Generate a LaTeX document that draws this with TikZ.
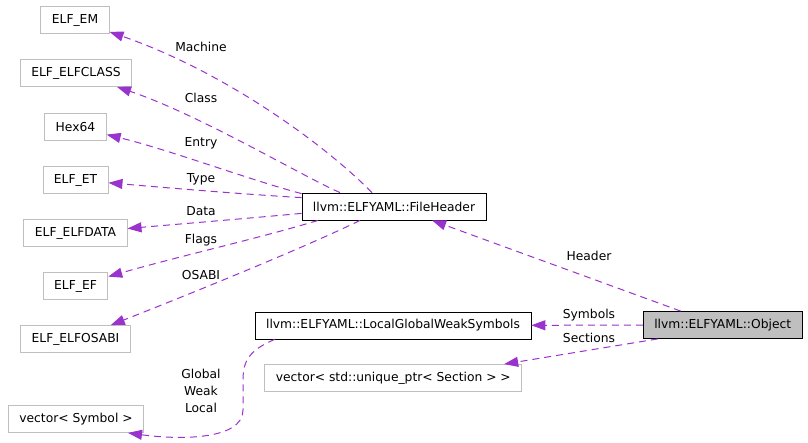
\documentclass[tikz,border=0pt]{standalone}
\usepackage{fontspec}
\setmainfont{DejaVu Sans}
\usetikzlibrary{arrows.meta,positioning}
\definecolor{edgepurple}{HTML}{9A32CD}
\definecolor{boxgray}{HTML}{BFBFBF}

\begin{document}
\begin{tikzpicture}[x=1pt, y=-1pt,
  cls/.style={rectangle, draw=black, fill=white, line width=0.8pt, minimum height=27pt, inner xsep=11pt, font=\fontsize{12.3}{17}\selectfont},
  ext/.style={cls, draw=boxgray},
  cur/.style={cls, fill=boxgray},
  link/.style={draw=edgepurple, line width=1pt, dash pattern=on 7pt off 5pt, -{Triangle[length=14pt,width=10pt,fill=edgepurple]}},
  lbl/.style={font=\fontsize{12.3}{17}\selectfont, align=center, inner sep=0pt}]
\useasboundingbox (0,0) rectangle (808,442);
% member types
\node[ext] (em) at (75,20) {ELF\_EM};
\node[ext] (elfclass) at (76,73) {ELF\_ELFCLASS};
\node[ext] (hex) at (75.5,127) {Hex64};
\node[ext] (et) at (75.5,180) {ELF\_ET};
\node[ext] (elfdata) at (75.5,233) {ELF\_ELFDATA};
\node[ext] (ef) at (75.5,286) {ELF\_EF};
\node[ext] (osabi) at (75.5,339) {ELF\_ELFOSABI};
\node[ext] (vecsym) at (76,419) {vector< Symbol >};
\node[cls] (fh) at (394,206.5) {llvm::ELFYAML::FileHeader};
\node[cls] (lgws) at (393,325.5) {llvm::ELFYAML::LocalGlobalWeakSymbols};
\node[ext] (vecsec) at (393.3,378) {vector< std::unique\_ptr< Section > >};
\node[cur] (obj) at (722.7,325) {llvm::ELFYAML::Object};
% FileHeader members
\draw[link] ([xshift=-22pt]fh.north) .. controls (320,140) and (220,70) .. (em);
\draw[link] ([xshift=-54pt]fh.north) .. controls (300,175) and (200,115) .. (elfclass);
\draw[link] ([yshift=-1pt]fh.north west) .. controls (250,180) and (170,150) .. (hex);
\draw[link] ([yshift=-5pt]fh.north west) .. controls (240,194) and (170,188) .. (et);
\draw[link] ([yshift=7pt]fh.south west) .. controls (240,219) and (180,224) .. (elfdata);
\draw[link] ([xshift=-76pt]fh.south) .. controls (260,238) and (180,256) .. (ef);
\draw[link] ([xshift=-34pt]fh.south) .. controls (310,245) and (200,290) .. (osabi);
% Object members
\draw[link] ([xshift=-42pt]obj.north) -- (fh);
\draw[link] (obj) -- (lgws);
\draw[link] ([xshift=-65pt]obj.south) -- ([xshift=-18pt]vecsec.north east);
\draw[link] ([xshift=20pt]lgws.south west) .. controls (250,350) and (243,360) .. (243,380)
  -- (243,410) .. controls (243,440) and (180,440) .. ([xshift=-16pt]vecsym.south east);
% labels
\node[lbl] (lmachine) at (201,47) {Machine};
\node[lbl] (lclass) at (201,98) {Class};
\node[lbl] (lentry) at (201,143) {Entry};
\node[lbl] (ltype) at (201,179) {Type};
\node[lbl] (ldata) at (201,211) {Data};
\node[lbl] (lflags) at (201,240) {Flags};
\node[lbl] (losabi) at (201,275) {OSABI};
\node[lbl] (lheader) at (589,256) {Header};
\node[lbl] (lsymbols) at (589,315) {Symbols};
\node[lbl] (lsections) at (589,338) {Sections};
\node[lbl] (lgwl) at (201,391) {Global\\Weak\\Local};
\end{tikzpicture}
\end{document}
